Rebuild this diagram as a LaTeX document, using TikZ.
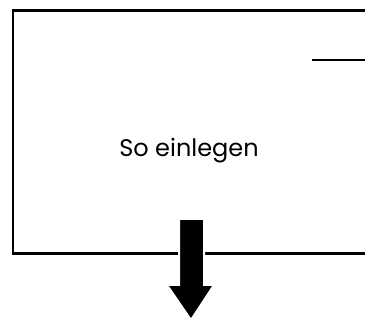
\documentclass[tikz,border=0pt]{standalone}
\usepackage{fontspec}
\setmainfont{Poppins}
\usetikzlibrary{positioning}

\begin{document}
\begin{tikzpicture}[x=1pt,y=1pt,
   frameline/.style={line width=2.6pt},
   bigarrow/.style={fill=black,draw=white,line width=2pt}]

\useasboundingbox (0,0) rectangle (365,320);

% frame, open on the right
\draw [frameline] (365,309.5) -- (13,309.5) -- (13,66.5) -- (365,66.5);
\draw [frameline] (312,260) -- (365,260);

% label
\node [anchor=base,font=\fontsize{24}{28}\selectfont] (label) at (189,163) {So einlegen};

% arrow pointing down
\draw [bigarrow]
   (179,101) -- (204,101) -- (204,35) -- (214,35)
   -- (191,0) -- (167,35) -- (179,35) -- cycle;

\end{tikzpicture}
\end{document}
